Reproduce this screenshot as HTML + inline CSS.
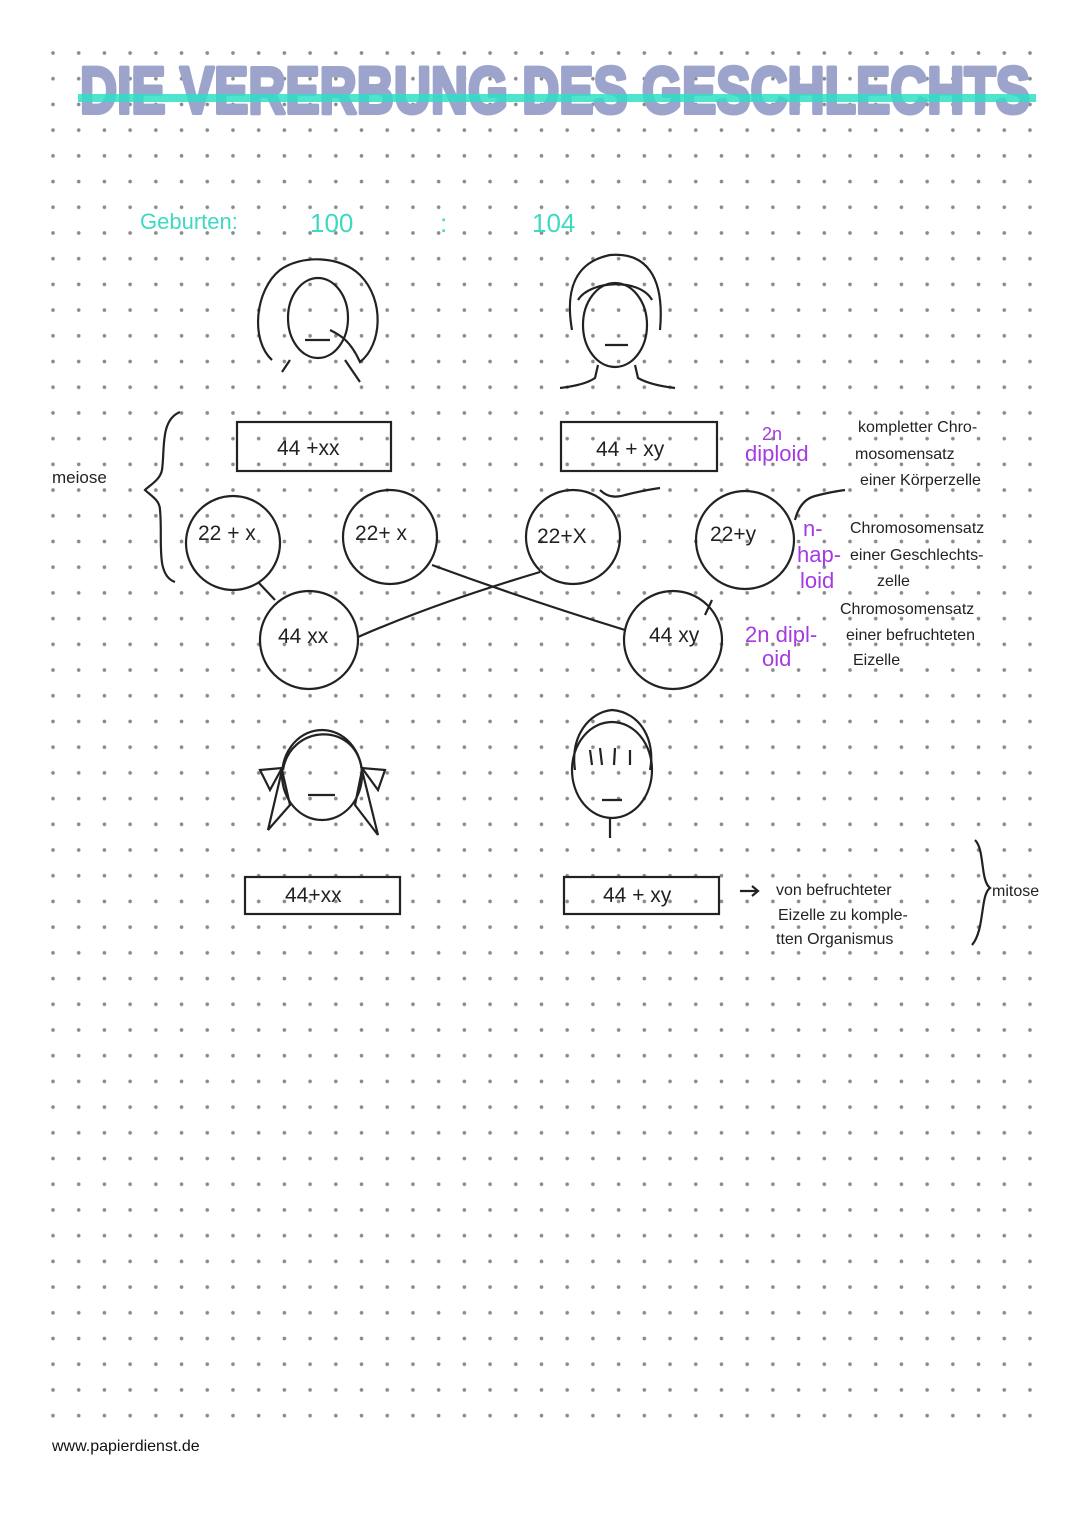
<!DOCTYPE html>
<html><head><meta charset="utf-8"><style>
html,body{margin:0;padding:0;background:#fff}
svg{display:block}
.h{font-family:"Liberation Sans",sans-serif;fill:#222}
.p{font-family:"Liberation Sans",sans-serif;fill:#a33be0}
</style></head><body>
<svg width="1080" height="1527" viewBox="0 0 1080 1527" xmlns="http://www.w3.org/2000/svg">
<defs>
<pattern id="g" x="40.15" y="40.15" width="25.71" height="25.71" patternUnits="userSpaceOnUse">
<circle cx="12.85" cy="12.85" r="1.8" fill="#8a8a8a"/>
</pattern>
</defs>
<rect x="40" y="40" width="1004" height="1390" fill="url(#g)"/>
<!-- title -->
<text x="80" y="113" font-family="Liberation Sans,sans-serif" font-weight="bold" font-size="66" fill="#9ca4cc" stroke="#9ca4cc" stroke-width="4" stroke-linejoin="round" textLength="950" lengthAdjust="spacingAndGlyphs">DIE VERERBUNG DES GESCHLECHTS</text>
<rect x="78" y="94" width="958" height="8" fill="#2ee0c6" opacity="0.85"/>
<!-- births -->
<text x="140" y="229" font-family="Liberation Sans,sans-serif" font-size="22" fill="#3fd9c2">Geburten:</text>
<text x="310" y="232" font-family="Liberation Sans,sans-serif" font-size="26" fill="#3fd9c2">100</text>
<text x="440" y="232" font-family="Liberation Sans,sans-serif" font-size="26" fill="#3fd9c2">:</text>
<text x="532" y="232" font-family="Liberation Sans,sans-serif" font-size="26" fill="#3fd9c2">104</text>
<g fill="none" stroke="#222" stroke-width="2.2">
<!-- woman -->
<path d="M272 360 C250 340 255 290 280 270 C300 255 340 255 360 275 C385 300 382 345 360 362 C350 340 340 335 330 330"/>
<ellipse cx="318" cy="318" rx="30" ry="40"/>
<path d="M282 372 L290 360 M345 360 L360 382"/>
<path d="M305 340 L330 340"/>
<!-- man -->
<path d="M572 330 C565 290 575 262 610 255 C645 252 665 275 660 330"/>
<path d="M578 300 C590 280 640 278 652 300"/>
<ellipse cx="615" cy="325" rx="32" ry="42"/>
<path d="M598 365 L595 378 Q585 385 560 388 M635 365 L638 378 Q650 385 675 388"/>
<path d="M605 345 L628 345"/>
<!-- boxes -->
<rect x="237" y="422" width="154" height="49"/>
<rect x="561" y="422" width="156" height="49"/>
<rect x="245" y="877" width="155" height="37"/>
<rect x="564" y="877" width="155" height="37"/>
<!-- circles -->
<circle cx="233" cy="543" r="47"/>
<circle cx="390" cy="537" r="47"/>
<circle cx="573" cy="537" r="47"/>
<circle cx="745" cy="540" r="49"/>
<circle cx="309" cy="640" r="49"/>
<circle cx="673" cy="640" r="49"/>
<!-- lines -->
<path d="M258 582 L275 600"/>
<path d="M358 637 C420 610 480 590 540 572"/>
<path d="M432 565 C500 590 560 610 625 630"/>
<path d="M712 600 L705 615"/>
<path d="M600 490 Q610 500 625 495 Q645 490 660 488"/>
<path d="M795 520 Q800 500 815 496 Q830 492 845 490"/>
<!-- brace -->
<path d="M180 412 C160 420 165 450 162 470 C160 480 150 485 145 490 C150 495 160 500 160 510 C163 540 155 575 175 582"/>
<path d="M975 840 C985 850 980 880 990 888 C980 895 985 930 972 945"/>
<!-- girl -->
<ellipse cx="322" cy="775" rx="40" ry="45"/>
<path d="M283 770 C290 725 355 720 362 770"/>
<path d="M282 770 L268 830 L290 805 Z M362 770 L378 835 L355 805 Z"/>
<path d="M260 770 L282 768 L270 790 Z M385 770 L362 768 L378 790 Z"/>
<path d="M308 795 L335 795"/>
<!-- boy -->
<ellipse cx="612" cy="770" rx="40" ry="48"/>
<path d="M575 770 C570 735 590 712 612 710 C640 712 656 740 650 770"/>
<path d="M590 750 L592 765 M600 748 L602 765 M615 748 L614 765 M630 750 L630 765"/>
<path d="M602 800 L622 800 M610 818 L610 838"/>
<path d="M740 891 L758 891 M752 886 L758 891 L752 896"/>
</g>
<!-- labels in boxes/circles -->
<g class="h" font-size="21">
<text x="277" y="455">44 +xx</text>
<text x="596" y="456">44 + xy</text>
<text x="198" y="540">22 + x</text>
<text x="355" y="540">22+ x</text>
<text x="537" y="543">22+X</text>
<text x="710" y="541">22+y</text>
<text x="278" y="643">44 xx</text>
<text x="649" y="642">44 xy</text>
<text x="285" y="902">44+xx</text>
<text x="603" y="902">44 + xy</text>
<text x="52" y="483" font-size="17">meiose</text>
</g>
<g class="h" font-size="16">
<text x="858" y="432">kompletter Chro-</text>
<text x="855" y="459">mosomensatz</text>
<text x="860" y="485">einer Körperzelle</text>
<text x="850" y="533">Chromosomensatz</text>
<text x="850" y="560">einer Geschlechts-</text>
<text x="877" y="586">zelle</text>
<text x="840" y="614">Chromosomensatz</text>
<text x="846" y="640">einer befruchteten</text>
<text x="853" y="665">Eizelle</text>
<text x="776" y="895">von befruchteter</text>
<text x="778" y="920">Eizelle zu komple-</text>
<text x="776" y="944">tten Organismus</text>
<text x="992" y="896">mitose</text>
</g>
<g class="p" font-size="22">
<text x="762" y="440" font-size="18">2n</text>
<text x="745" y="461">diploid</text>
<text x="803" y="536">n-</text>
<text x="797" y="562">hap-</text>
<text x="800" y="588">loid</text>
<text x="745" y="642">2n dipl-</text>
<text x="762" y="666">oid</text>
</g>
<text x="52" y="1451" font-family="Liberation Sans,sans-serif" font-size="16" fill="#111">www.papierdienst.de</text>
</svg>
</body></html>
